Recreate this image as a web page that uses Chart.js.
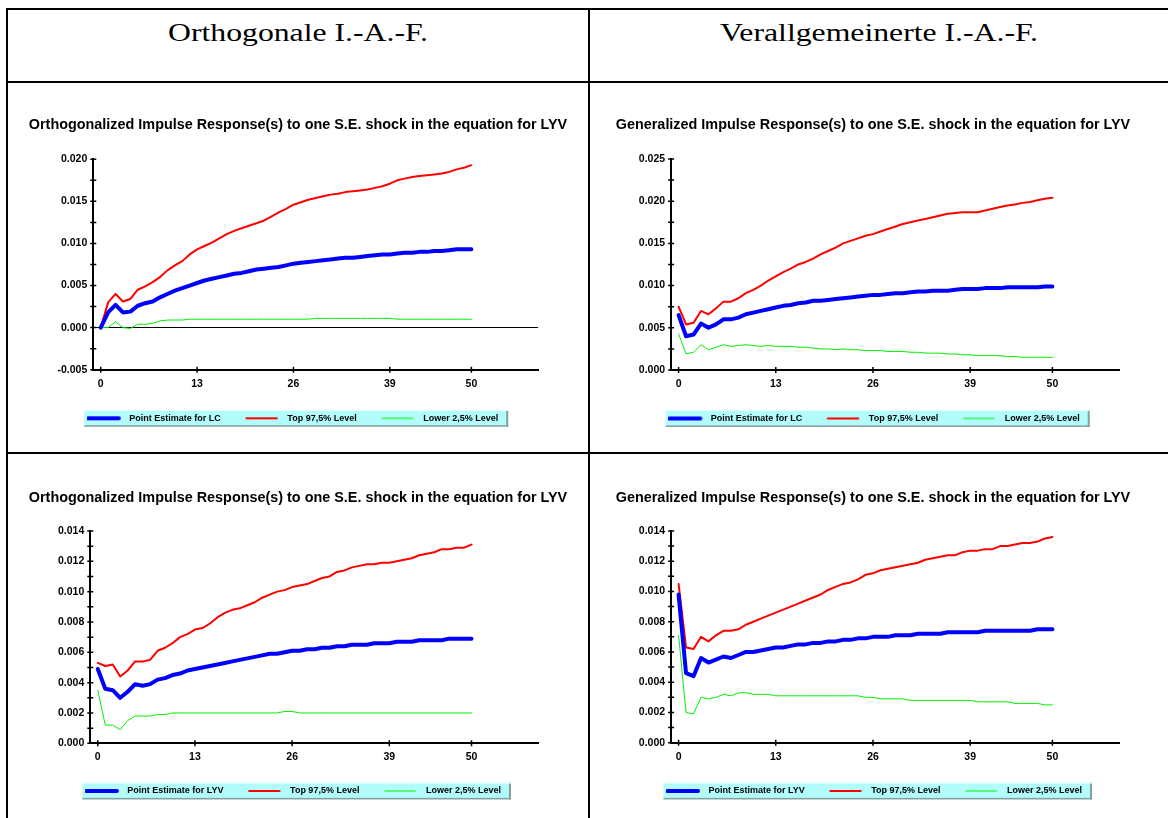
<!DOCTYPE html>
<html lang="de">
<head>
<meta charset="utf-8">
<title>Impuls-Antwort-Funktionen</title>
<script src="https://cdn.jsdelivr.net/npm/chart.js@4.4.1/dist/chart.umd.min.js"></script>
<style>
  body { margin: 0; background: #fff; width: 1168px; height: 818px; overflow: hidden; position: relative; }
  .linie { position: absolute; background: #000; }
  .kopf { position: absolute; top: 18px; height: 30px; line-height: 30px; text-align: center;
          font-family: "Liberation Serif", "Times New Roman", serif; font-size: 26px; color: #000;
          transform: scaleX(1.22); }
  canvas { position: absolute; }
</style>
</head>
<body>
<!-- Tabellenrahmen -->
<div class="linie" style="left:6px;top:8px;width:1162px;height:2px"></div>
<div class="linie" style="left:6px;top:8px;width:2px;height:810px"></div>
<div class="linie" style="left:588px;top:8px;width:2px;height:810px"></div>
<div class="linie" style="left:6px;top:81px;width:1162px;height:2px"></div>
<div class="linie" style="left:6px;top:452px;width:1162px;height:2px"></div>

<div class="kopf" style="left:8px;width:580px">Orthogonale I.-A.-F.</div>
<div class="kopf" style="left:590px;width:578px">Verallgemeinerte I.-A.-F.</div>

<canvas id="orthLC" width="580" height="368" style="left:8px;top:84px"></canvas>
<canvas id="genLC" width="578" height="368" style="left:590px;top:84px"></canvas>
<canvas id="orthLYV" width="580" height="363" style="left:8px;top:455px"></canvas>
<canvas id="genLYV" width="578" height="363" style="left:590px;top:455px"></canvas>

<script>
// Horizont 0..50 Perioden, beschriftet nur bei 0, 13, 26, 39, 50
const horizont = Array.from({ length: 51 }, (_, i) => i);
const xTicks = [0, 13, 26, 39, 50];

// Schock in LYV -> Reaktion von LC (orthogonalisiert)
const orthLC_punkt = [0.0000, 0.0018, 0.0027, 0.0018, 0.0019, 0.0026, 0.0029, 0.0031, 0.0036, 0.0040,
  0.0044, 0.0047, 0.0050, 0.0053, 0.0056, 0.0058, 0.0060, 0.0062, 0.0064, 0.0065,
  0.0067, 0.0069, 0.0070, 0.0071, 0.0072, 0.0074, 0.0076, 0.0077, 0.0078, 0.0079,
  0.0080, 0.0081, 0.0082, 0.0083, 0.0083, 0.0084, 0.0085, 0.0086, 0.0087, 0.0087,
  0.0088, 0.0089, 0.0089, 0.0090, 0.0090, 0.0091, 0.0091, 0.0092, 0.0093, 0.0093, 0.0093];
const orthLC_oben = [0.0000, 0.0030, 0.0040, 0.0031, 0.0034, 0.0045, 0.0049, 0.0054, 0.0060, 0.0068,
  0.0074, 0.0079, 0.0087, 0.0093, 0.0097, 0.0101, 0.0106, 0.0111, 0.0115, 0.0118,
  0.0121, 0.0124, 0.0127, 0.0132, 0.0137, 0.0141, 0.0146, 0.0149, 0.0152, 0.0154,
  0.0156, 0.0158, 0.0159, 0.0161, 0.0162, 0.0163, 0.0164, 0.0166, 0.0168, 0.0171,
  0.0175, 0.0177, 0.0179, 0.0180, 0.0181, 0.0182, 0.0183, 0.0185, 0.0188, 0.0190, 0.0193];
const orthLC_unten = [0.0000, 0.0000, 0.0007, 0.0000, -0.0001, 0.0004, 0.0004, 0.0005, 0.0008, 0.0009,
  0.0009, 0.0009, 0.0010, 0.0010, 0.0010, 0.0010, 0.0010, 0.0010, 0.0010, 0.0010,
  0.0010, 0.0010, 0.0010, 0.0010, 0.0010, 0.0010, 0.0010, 0.0010, 0.0010, 0.0011,
  0.0011, 0.0011, 0.0011, 0.0011, 0.0011, 0.0011, 0.0011, 0.0011, 0.0011, 0.0011,
  0.0010, 0.0010, 0.0010, 0.0010, 0.0010, 0.0010, 0.0010, 0.0010, 0.0010, 0.0010, 0.0010];

// Schock in LYV -> Reaktion von LC (verallgemeinert)
const genLC_punkt = [0.0065, 0.0040, 0.0042, 0.0055, 0.0050, 0.0054, 0.0060, 0.0060, 0.0062, 0.0066,
  0.0068, 0.0070, 0.0072, 0.0074, 0.0076, 0.0077, 0.0079, 0.0080, 0.0082, 0.0082,
  0.0083, 0.0084, 0.0085, 0.0086, 0.0087, 0.0088, 0.0089, 0.0089, 0.0090, 0.0091,
  0.0091, 0.0092, 0.0093, 0.0093, 0.0094, 0.0094, 0.0094, 0.0095, 0.0096, 0.0096,
  0.0096, 0.0097, 0.0097, 0.0097, 0.0098, 0.0098, 0.0098, 0.0098, 0.0098, 0.0099, 0.0099];
const genLC_oben = [0.0075, 0.0054, 0.0056, 0.0070, 0.0066, 0.0073, 0.0081, 0.0081, 0.0085, 0.0091,
  0.0095, 0.0100, 0.0106, 0.0111, 0.0116, 0.0120, 0.0125, 0.0128, 0.0132, 0.0137,
  0.0141, 0.0145, 0.0150, 0.0153, 0.0156, 0.0159, 0.0161, 0.0164, 0.0167, 0.0170,
  0.0173, 0.0175, 0.0177, 0.0179, 0.0181, 0.0183, 0.0185, 0.0186, 0.0187, 0.0187,
  0.0187, 0.0189, 0.0191, 0.0193, 0.0195, 0.0196, 0.0198, 0.0199, 0.0201, 0.0203, 0.0204];
const genLC_unten = [0.0043, 0.0019, 0.0021, 0.0030, 0.0024, 0.0027, 0.0030, 0.0028, 0.0029, 0.0030,
  0.0029, 0.0028, 0.0029, 0.0028, 0.0028, 0.0028, 0.0027, 0.0027, 0.0026, 0.0025,
  0.0025, 0.0024, 0.0025, 0.0024, 0.0024, 0.0023, 0.0023, 0.0023, 0.0022, 0.0022,
  0.0022, 0.0021, 0.0021, 0.0020, 0.0020, 0.0020, 0.0019, 0.0019, 0.0018, 0.0018,
  0.0017, 0.0017, 0.0017, 0.0017, 0.0016, 0.0016, 0.0015, 0.0015, 0.0015, 0.0015, 0.0015];

// Schock in LYV -> Reaktion von LYV (orthogonalisiert)
const orthLYV_punkt = [0.0049, 0.0036, 0.0035, 0.0030, 0.0034, 0.0039, 0.0038, 0.0039, 0.0042, 0.0043,
  0.0045, 0.0046, 0.0048, 0.0049, 0.0050, 0.0051, 0.0052, 0.0053, 0.0054, 0.0055,
  0.0056, 0.0057, 0.0058, 0.0059, 0.0059, 0.0060, 0.0061, 0.0061, 0.0062, 0.0062,
  0.0063, 0.0063, 0.0064, 0.0064, 0.0065, 0.0065, 0.0065, 0.0066, 0.0066, 0.0066,
  0.0067, 0.0067, 0.0067, 0.0068, 0.0068, 0.0068, 0.0068, 0.0069, 0.0069, 0.0069, 0.0069];
const orthLYV_oben = [0.0053, 0.0051, 0.0052, 0.0044, 0.0048, 0.0054, 0.0054, 0.0055, 0.0061, 0.0063,
  0.0066, 0.0070, 0.0072, 0.0075, 0.0076, 0.0079, 0.0083, 0.0086, 0.0088, 0.0089,
  0.0091, 0.0093, 0.0096, 0.0098, 0.0100, 0.0101, 0.0103, 0.0104, 0.0105, 0.0107,
  0.0109, 0.0110, 0.0113, 0.0114, 0.0116, 0.0117, 0.0118, 0.0118, 0.0119, 0.0119,
  0.0120, 0.0121, 0.0122, 0.0124, 0.0125, 0.0126, 0.0128, 0.0128, 0.0129, 0.0129, 0.0131];
const orthLYV_unten = [0.0035, 0.0012, 0.0012, 0.0009, 0.0015, 0.0018, 0.0018, 0.0018, 0.0019, 0.0019,
  0.0020, 0.0020, 0.0020, 0.0020, 0.0020, 0.0020, 0.0020, 0.0020, 0.0020, 0.0020,
  0.0020, 0.0020, 0.0020, 0.0020, 0.0020, 0.0021, 0.0021, 0.0020, 0.0020, 0.0020,
  0.0020, 0.0020, 0.0020, 0.0020, 0.0020, 0.0020, 0.0020, 0.0020, 0.0020, 0.0020,
  0.0020, 0.0020, 0.0020, 0.0020, 0.0020, 0.0020, 0.0020, 0.0020, 0.0020, 0.0020, 0.0020];

// Schock in LYV -> Reaktion von LYV (verallgemeinert)
const genLYV_punkt = [0.0098, 0.0046, 0.0044, 0.0056, 0.0053, 0.0055, 0.0057, 0.0056, 0.0058, 0.0060,
  0.0060, 0.0061, 0.0062, 0.0063, 0.0063, 0.0064, 0.0065, 0.0065, 0.0066, 0.0066,
  0.0067, 0.0067, 0.0068, 0.0068, 0.0069, 0.0069, 0.0070, 0.0070, 0.0070, 0.0071,
  0.0071, 0.0071, 0.0072, 0.0072, 0.0072, 0.0072, 0.0073, 0.0073, 0.0073, 0.0073,
  0.0073, 0.0074, 0.0074, 0.0074, 0.0074, 0.0074, 0.0074, 0.0074, 0.0075, 0.0075, 0.0075];
const genLYV_oben = [0.0105, 0.0063, 0.0062, 0.0070, 0.0067, 0.0071, 0.0074, 0.0074, 0.0075, 0.0078,
  0.0080, 0.0082, 0.0084, 0.0086, 0.0088, 0.0090, 0.0092, 0.0094, 0.0096, 0.0098,
  0.0101, 0.0103, 0.0105, 0.0106, 0.0108, 0.0111, 0.0112, 0.0114, 0.0115, 0.0116,
  0.0117, 0.0118, 0.0119, 0.0121, 0.0122, 0.0123, 0.0124, 0.0124, 0.0126, 0.0127,
  0.0127, 0.0128, 0.0128, 0.0130, 0.0130, 0.0131, 0.0132, 0.0132, 0.0133, 0.0135, 0.0136];
const genLYV_unten = [0.0071, 0.0020, 0.0019, 0.0030, 0.0029, 0.0030, 0.0032, 0.0031, 0.0033, 0.0033,
  0.0032, 0.0032, 0.0032, 0.0031, 0.0031, 0.0031, 0.0031, 0.0031, 0.0031, 0.0031,
  0.0031, 0.0031, 0.0031, 0.0031, 0.0031, 0.0030, 0.0030, 0.0029, 0.0029, 0.0029,
  0.0029, 0.0028, 0.0028, 0.0028, 0.0028, 0.0028, 0.0028, 0.0028, 0.0028, 0.0028,
  0.0027, 0.0027, 0.0027, 0.0027, 0.0027, 0.0026, 0.0026, 0.0026, 0.0026, 0.0025, 0.0025];

const titelOrth = 'Orthogonalized Impulse Response(s) to one S.E. shock in the equation for LYV';
const titelGen = 'Generalized Impulse Response(s) to one S.E. shock in the equation for LYV';

Chart.defaults.font.family = '"Liberation Sans", Arial, Helvetica, sans-serif';
Chart.defaults.color = '#000';

//-----------------------------------------------------------------------------------------------
// Kleines Linienstück als Legendensymbol (Linie links, Luft rechts bis zum Text)
function legendenStrich(farbe, breite) {
  const c = document.createElement('canvas');
  c.width = 38;
  c.height = 8;
  const g = c.getContext('2d');
  g.strokeStyle = farbe;
  g.lineWidth = breite;
  g.lineCap = 'round';
  g.beginPath();
  g.moveTo(1.5, 4);
  g.lineTo(32, 4);
  g.stroke();
  return c;
}

// Striche quer über die Achsen (große und kleine Marken)
const achsenStriche = {
  id: 'achsenStriche',
  afterDatasetsDraw(chart) {
    const ctx = chart.ctx;
    const xs = chart.scales.x, ys = chart.scales.y;
    const links = chart.chartArea.left, unten = chart.chartArea.bottom;
    ctx.save();
    ctx.strokeStyle = '#000';
    ctx.lineWidth = 1.5;
    ctx.beginPath();
    ys.ticks.forEach(t => {
      const py = ys.getPixelForValue(t.value);
      ctx.moveTo(links - 3, py);
      ctx.lineTo(links + 3, py);
    });
    xs.ticks.forEach(t => {
      const px = xs.getPixelForValue(t.value);
      ctx.moveTo(px, unten - 3);
      ctx.lineTo(px, unten + 3);
    });
    ctx.stroke();
    ctx.restore();
  }
};

// Legende seitlich nachschieben (Titel und Legende teilen sich sonst dieselbe Mitte)
const legendeVerschieben = {
  id: 'legendeVerschieben',
  afterLayout(chart, args, opts) {
    const lg = chart.legend;
    if (!lg || !opts.dx) return;
    lg.left += opts.dx;
    lg.right += opts.dx;
  }
};

// Türkiser Kasten hinter der Legende
const legendenKasten = {
  id: 'legendenKasten',
  beforeDraw(chart) {
    const hb = chart.legend && chart.legend.legendHitBoxes;
    if (!hb || !hb.length) return;
    const ctx = chart.ctx;
    const last = hb[hb.length - 1];
    const l = hb[0].left - 2.5;
    const r = last.left + last.width + 10;
    const t = hb[0].top + hb[0].height / 2 - 8.3;
    const h = 16.7;
    ctx.save();
    ctx.fillStyle = '#b2fcfc';
    ctx.fillRect(l, t, r - l, h);
    ctx.fillStyle = '#8a9c9c';
    ctx.fillRect(r - 2, t, 2, h);
    ctx.fillRect(l, t + h - 1.5, r - l, 1.5);
    ctx.fillStyle = '#e4ffff';
    ctx.fillRect(l, t, r - l, 1);
    ctx.restore();
  }
};

//-----------------------------------------------------------------------------------------------
function zeichneIAF(id, titel, punktName, punkt, oben, unten, achse, lay) {
  const ctx = document.getElementById(id).getContext('2d');
  return new Chart(ctx, {
    type: 'line',
    data: {
      labels: horizont,
      datasets: [
        { label: punktName, data: punkt, borderColor: '#0000ff', borderWidth: 4,
          pointStyle: legendenStrich('#0000ff', 4) },
        { label: 'Top 97,5% Level', data: oben, borderColor: '#ff0000', borderWidth: 2,
          pointStyle: legendenStrich('#ff0000', 2) },
        { label: 'Lower 2,5% Level', data: unten, borderColor: '#00f000', borderWidth: 1,
          pointStyle: legendenStrich('#00f000', 1.2) }
      ]
    },
    options: {
      responsive: false,
      animation: false,
      events: [],
      elements: {
        point: { radius: 0 },
        line: { tension: 0, fill: false, borderJoinStyle: 'round', borderCapStyle: 'round' }
      },
      layout: { padding: { top: 0, bottom: lay.pb, left: lay.pl, right: lay.pr } },
      scales: {
        x: {
          type: 'linear',
          min: -1,
          max: 59,
          // xr = Abstand Zeichenfläche bis rechter Canvasrand
          afterFit: s => { s.height = lay.hx; s.paddingRight = lay.xr; },
          afterBuildTicks: s => { s.ticks = xTicks.map(v => ({ value: v })); },
          border: { display: true, color: '#000', width: 2 },
          grid: { drawOnChartArea: false, drawTicks: false },
          ticks: { padding: 8, autoSkip: false, maxRotation: 0, font: { size: 10.5, weight: 'bold' } }
        },
        y: {
          type: 'linear',
          min: achse.min,
          max: achse.max,
          afterFit: s => { s.width = lay.wy; },
          border: { display: true, color: '#000', width: 2 },
          grid: {
            drawTicks: false,
            lineWidth: 1,
            // Nulllinie nur wenn die Achse ins Negative reicht
            color: c => (achse.min < 0 && c.tick && Math.abs(c.tick.value) < 1e-9) ? '#000' : 'rgba(0,0,0,0)'
          },
          ticks: {
            stepSize: achse.step,
            autoSkip: false,
            padding: 6,
            font: { size: 10.5, weight: 'bold' },
            callback: v => Math.round(v / achse.step) % 2 === 0 ? v.toFixed(3) : ''
          }
        }
      },
      plugins: {
        title: {
          display: true,
          text: titel,
          color: '#000',
          font: { size: 14.4, weight: 'bold' },
          padding: { top: lay.tt, bottom: lay.tb }
        },
        legend: {
          display: true,
          position: 'bottom',
          labels: {
            usePointStyle: true,
            pointStyleWidth: 38,
            padding: 24,
            color: '#000',
            font: { size: 9, weight: 'bold' }
          }
        },
        legendeVerschieben: { dx: lay.ldx },
        tooltip: { enabled: false }
      }
    },
    plugins: [legendeVerschieben, legendenKasten, achsenStriche]
  });
}

zeichneIAF('orthLC', titelOrth, 'Point Estimate for LC', orthLC_punkt, orthLC_oben, orthLC_unten,
  { min: -0.005, max: 0.020, step: 0.0025 },
  { pl: 20, pr: 20, pb: 19.2, wy: 65.3, xr: 49.9, hx: 20.1, tt: 32.4, tb: 25.6, ldx: -5.5 });

zeichneIAF('genLC', titelGen, 'Point Estimate for LC', genLC_punkt, genLC_oben, genLC_unten,
  { min: 0, max: 0.025, step: 0.0025 },
  { pl: 18, pr: 30, pb: 19, wy: 63.1, xr: 48.3, hx: 20, tt: 32.4, tb: 25.3, ldx: 1 });

zeichneIAF('orthLYV', titelOrth, 'Point Estimate for LYV', orthLYV_punkt, orthLYV_oben, orthLYV_unten,
  { min: 0, max: 0.014, step: 0.001 },
  { pl: 20, pr: 20, pb: 12.5, wy: 62.3, xr: 49.2, hx: 19.2, tt: 34.1, tb: 24.6, ldx: -5.1 });

zeichneIAF('genLYV', titelGen, 'Point Estimate for LYV', genLYV_punkt, genLYV_oben, genLYV_unten,
  { min: 0, max: 0.014, step: 0.001 },
  { pl: 18, pr: 30, pb: 12.5, wy: 63.1, xr: 48.3, hx: 19.8, tt: 34.1, tb: 24.6, ldx: 1 });
</script>
</body>
</html>
